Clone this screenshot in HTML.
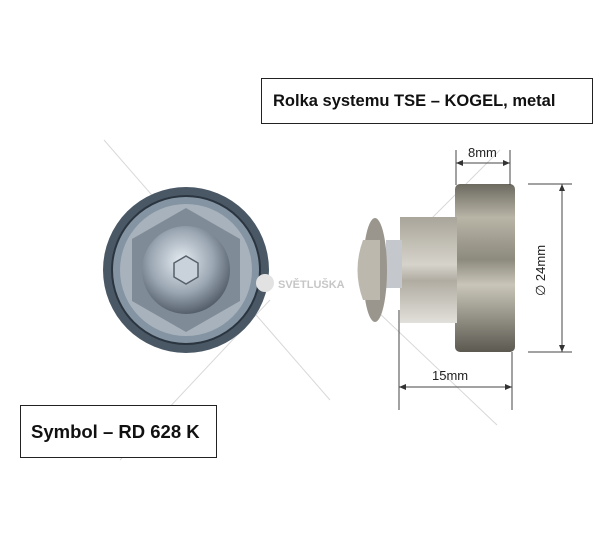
<!DOCTYPE html>
<html><head><style>
html,body{margin:0;padding:0;background:#fff;}
svg{display:block}
</style></head><body>
<svg width="600" height="536" viewBox="0 0 600 536" xmlns="http://www.w3.org/2000/svg">
<defs>
<linearGradient id="wh" x1="0" y1="0" x2="0" y2="1">
<stop offset="0" stop-color="#6c6a60"/><stop offset="0.2" stop-color="#b8b4a6"/><stop offset="0.45" stop-color="#8d8a7e"/><stop offset="0.6" stop-color="#c9c6b9"/><stop offset="1" stop-color="#5b5950"/>
</linearGradient>
<linearGradient id="nut" x1="0" y1="0" x2="0" y2="1">
<stop offset="0" stop-color="#a9a59a"/><stop offset="0.45" stop-color="#d6d3cb"/><stop offset="0.6" stop-color="#b0aca2"/><stop offset="1" stop-color="#e2e0da"/>
</linearGradient>
<radialGradient id="bolt" cx="0.45" cy="0.4" r="0.6">
<stop offset="0" stop-color="#e6ecf2"/><stop offset="0.6" stop-color="#9aa6b2"/><stop offset="1" stop-color="#55606c"/>
</radialGradient>
</defs>
<g stroke="#d8d8d8" stroke-width="1">
<line x1="104" y1="140" x2="330" y2="400"/>
<line x1="120" y1="460" x2="270" y2="300"/>
<line x1="378" y1="312" x2="497" y2="425"/>
<line x1="400" y1="250" x2="500" y2="150"/>
</g>
<circle cx="186" cy="270" r="83" fill="#4a5866"/>
<circle cx="186" cy="270" r="74" fill="#8494a2" stroke="#2b3540" stroke-width="2"/>
<circle cx="186" cy="270" r="66" fill="#a8b2bc"/>
<polygon points="186,208 240,239 240,301 186,332 132,301 132,239" fill="#7f8b97"/>
<circle cx="186" cy="270" r="44" fill="url(#bolt)"/>
<polygon points="186,256 198,263 198,277 186,284 174,277 174,263" fill="#c9d2da" stroke="#56606a" stroke-width="1.5"/>
<circle cx="265" cy="283" r="9" fill="#e2e2e2"/>
<text x="278" y="288" font-family="Liberation Sans, sans-serif" font-weight="bold" font-size="11" fill="#c6c6c6">SVĚTLUŠKA</text>
<rect x="455" y="184" width="60" height="168" rx="5" fill="url(#wh)"/>
<rect x="400" y="217" width="57" height="106" fill="url(#nut)"/>
<rect x="386" y="240" width="16" height="48" fill="#c4c8cc"/>
<ellipse cx="375" cy="270" rx="12" ry="52" fill="#9a968d"/>
<path d="M363 240 Q352 270 363 300 L380 300 L380 240Z" fill="#bcb8ae"/>
<g stroke="#444" stroke-width="1" fill="none">
<line x1="456" y1="150" x2="456" y2="185"/><line x1="510" y1="150" x2="510" y2="185"/>
<line x1="456" y1="163" x2="510" y2="163"/>
<line x1="528" y1="184" x2="572" y2="184"/><line x1="528" y1="352" x2="572" y2="352"/>
<line x1="562" y1="184" x2="562" y2="352"/>
<line x1="399" y1="310" x2="399" y2="410"/><line x1="512" y1="352" x2="512" y2="410"/>
<line x1="399" y1="387" x2="512" y2="387"/>
</g>
<g fill="#333">
<polygon points="456,163 463,160 463,166"/><polygon points="510,163 503,160 503,166"/>
<polygon points="562,184 559,191 565,191"/><polygon points="562,352 559,345 565,345"/>
<polygon points="399,387 406,384 406,390"/><polygon points="512,387 505,384 505,390"/>
</g>
<g font-family="Liberation Sans, sans-serif" font-size="13" fill="#222">
<text x="468" y="157">8mm</text>
<text x="432" y="380">15mm</text>
<text transform="translate(545,296) rotate(-90)">∅ 24mm</text>
</g>
<rect x="261.5" y="78.5" width="331" height="45" fill="#fff" stroke="#222"/>
<text x="273" y="106" font-family="Liberation Sans, sans-serif" font-weight="bold" font-size="16.5" fill="#111">Rolka systemu TSE – KOGEL, metal</text>
<rect x="20.5" y="405.5" width="196" height="52" fill="#fff" stroke="#222"/>
<text x="31" y="438" font-family="Liberation Sans, sans-serif" font-weight="bold" font-size="18.5" fill="#111">Symbol – RD 628 K</text>
</svg>
</body></html>
